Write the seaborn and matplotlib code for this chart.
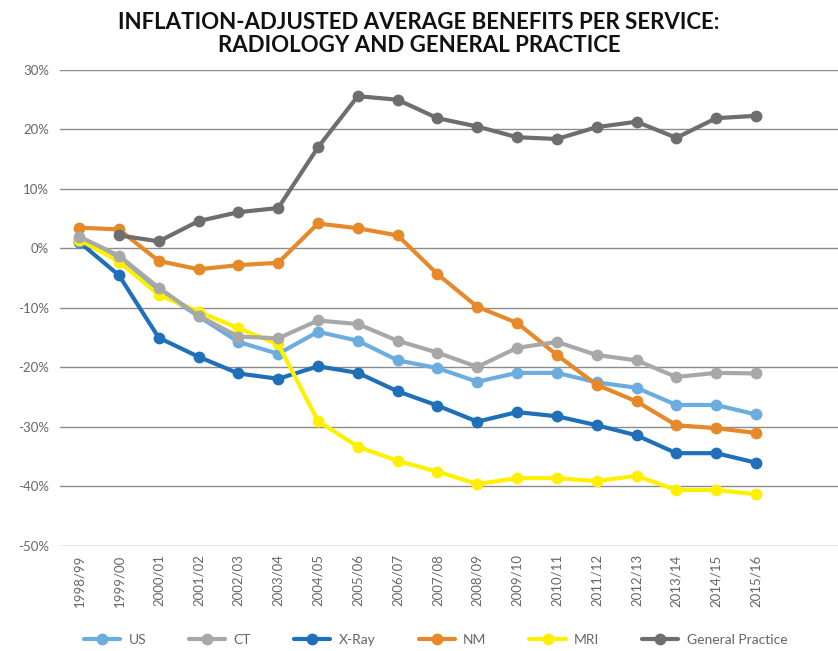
import numpy as np
import pandas as pd
import seaborn as sns
import matplotlib.pyplot as plt
from matplotlib.lines import Line2D

periods = ['1998/99', '1999/00', '2000/01', '2001/02', '2002/03', '2003/04',
           '2004/05', '2005/06', '2006/07', '2007/08', '2008/09', '2009/10',
           '2010/11', '2011/12', '2012/13', '2013/14', '2014/15', '2015/16']

us = [1.3, -1.4, -7.0, -11.4, -15.7, -17.7, -14.0, -15.5, -18.8, -20.1,
      -22.4, -20.9, -20.9, -22.5, -23.4, -26.3, -26.3, -27.9]
ct = [2.0, -1.2, -6.6, -11.3, -14.8, -15.1, -12.1, -12.7, -15.5, -17.5,
      -19.9, -16.7, -15.7, -17.9, -18.8, -21.6, -20.9, -21.0]
xray = [1.1, -4.5, -15.0, -18.2, -21.0, -21.9, -19.8, -20.9, -24.0, -26.4,
        -29.1, -27.5, -28.2, -29.7, -31.4, -34.4, -34.4, -36.0]
nm = [3.5, 3.2, -2.1, -3.5, -2.8, -2.4, 4.2, 3.4, 2.2, -4.3,
      -9.8, -12.5, -17.9, -22.9, -25.7, -29.7, -30.2, -31.0]
mri = [1.5, -2.2, -7.8, -10.6, -13.4, -16.1, -29.0, -33.3, -35.7, -37.5,
       -39.6, -38.6, -38.6, -39.1, -38.2, -40.6, -40.6, -41.3]
gp = [np.nan, 2.2, 1.2, 4.6, 6.1, 6.8, 17.0, 25.6, 25.0, 21.9,
      20.5, 18.7, 18.4, 20.4, 21.3, 18.6, 21.9, 22.3]

series = {'US': us, 'CT': ct, 'X-Ray': xray, 'NM': nm, 'MRI': mri,
          'General Practice': gp}
colors = {'US': '#6cade0', 'CT': '#a8a8a8', 'X-Ray': '#1f70b8',
          'NM': '#e6892b', 'MRI': '#fff000', 'General Practice': '#6e6e70'}
# drawing order (later on top)
zorders = {'X-Ray': 3, 'US': 4, 'NM': 5, 'MRI': 6, 'CT': 7, 'General Practice': 8}

yticks = [30, 20, 10, 0, -10, -20, -30, -40, -50]

sns.set_style('white')
plt.rcParams['font.family'] = ['Lato', 'DejaVu Sans']

fig = plt.figure(figsize=(8.38, 6.51), dpi=100)
ax = fig.add_axes([0.0716, 0.1613, 0.9284, 0.7312])

handles = {}
for name, vals in series.items():
    df = pd.DataFrame({'x': np.arange(len(periods)), 'y': vals}).dropna()
    sns.lineplot(data=df, x='x', y='y', ax=ax, color=colors[name], lw=3,
                 marker='o', markersize=8.5, markeredgewidth=0,
                 zorder=zorders[name])
    handles[name] = Line2D([], [], color=colors[name], lw=3, marker='o',
                           markersize=8.5, markeredgewidth=0)

ax.set_xlim(-0.48, 19.06)
ax.set_ylim(-50, 30)
ax.set_yticks(yticks)
ax.set_yticklabels([f'{v}%' for v in yticks])
ax.set_xticks(np.arange(len(periods)))
ax.set_xticklabels(periods, rotation=90)
ax.grid(axis='y', color='#8c8c8c', lw=1, zorder=0)
ax.set_axisbelow(True)
for s in ax.spines.values():
    s.set_visible(False)
ax.tick_params(axis='both', length=0, colors='#666666', labelsize=9.5)
ax.tick_params(axis='x', pad=6)
ax.tick_params(axis='y', pad=8)
ax.set_xlabel('')
ax.set_ylabel('')

fig.suptitle('INFLATION-ADJUSTED AVERAGE BENEFITS PER SERVICE:\nRADIOLOGY AND GENERAL PRACTICE',
             x=0.5, y=0.982, fontsize=16, fontweight='bold', color='#111111',
             linespacing=1.15)

fig.legend(handles=list(handles.values()), labels=list(handles.keys()),
           loc='center', bbox_to_anchor=(0.52, 0.017), ncol=6, frameon=False,
           handlelength=2.6, columnspacing=3.1, handletextpad=0.6,
           labelcolor='#666666', prop={'size': 10})

fig.savefig('out.png', dpi=100)
